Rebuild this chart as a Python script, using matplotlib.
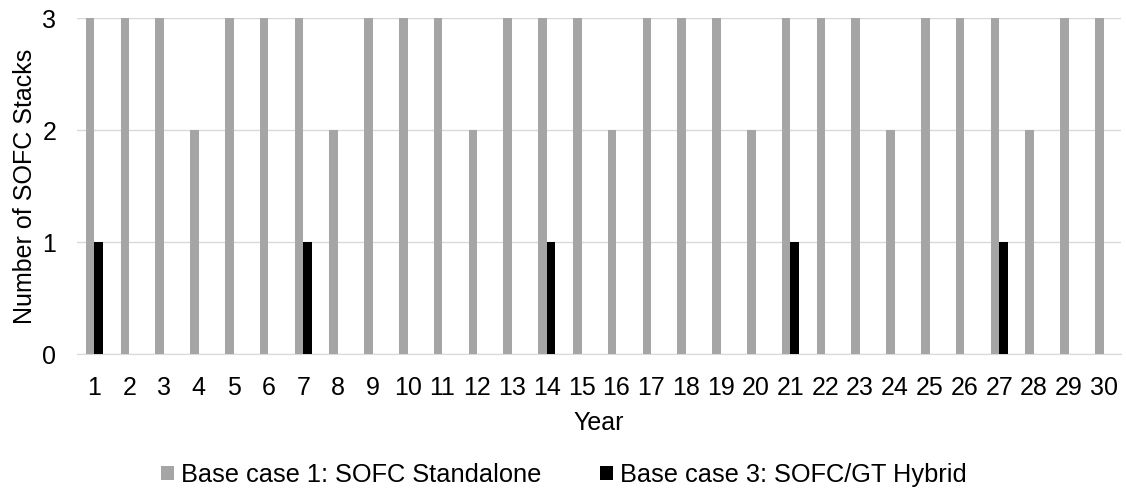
import matplotlib
matplotlib.use("Agg")
import matplotlib.pyplot as plt
import numpy as np

years = list(range(1, 31))
standalone = [3, 3, 3, 2, 3, 3, 3, 2, 3, 3, 3, 2, 3, 3, 3, 2, 3, 3, 3, 2,
              3, 3, 3, 2, 3, 3, 3, 2, 3, 3]
hybrid = [1, 0, 0, 0, 0, 0, 1, 0, 0, 0, 0, 0, 0, 1, 0, 0, 0, 0, 0, 0,
          1, 0, 0, 0, 0, 0, 1, 0, 0, 0]
labels = ["Base case 1: SOFC Standalone", "Base case 3: SOFC/GT Hybrid"]

plt.rcParams['font.family'] = ['Liberation Sans', 'DejaVu Sans']
FS = 18
fig = plt.figure(figsize=(11.26, 4.91), dpi=100)
ax = fig.add_axes([77/1126, 1-354/491, (1121-77)/1126, (354-18)/491])

x = np.arange(len(years))
w = 0.245
ax.bar(x - w/2, standalone, width=w, color='#a5a5a5', label=labels[0], zorder=3)
ax.bar(x + w/2, hybrid, width=w, color='#000000', label=labels[1], zorder=3)

ax.set_xlim(-0.5, len(years) - 0.5)
ax.set_ylim(0, 3)
ax.set_yticks([0, 1, 2, 3])
ax.set_xticks(x)
ax.set_xticklabels([str(y) for y in years])
ax.yaxis.grid(True, color='#d9d9d9', linewidth=1, zorder=0)
for s in ['top', 'right', 'left']:
    ax.spines[s].set_visible(False)
ax.spines['bottom'].set_color('#d9d9d9')
ax.tick_params(axis='both', length=0, labelsize=FS, colors='#000000')
ax.tick_params(axis='x', pad=15.5)
ax.tick_params(axis='y', pad=15)
ax.set_xlabel('Year', fontsize=FS, labelpad=8)
ax.set_ylabel('Number of SOFC Stacks', fontsize=FS, labelpad=4)

leg = fig.legend(loc='center', bbox_to_anchor=(564/1126, 1-475/491), ncol=2,
                 frameon=False, fontsize=18.3, handlelength=0.51, handleheight=0.51,
                 handletextpad=0.28, columnspacing=2.32, borderpad=0,
                 borderaxespad=0)

fig.savefig('out.png', dpi=100)
